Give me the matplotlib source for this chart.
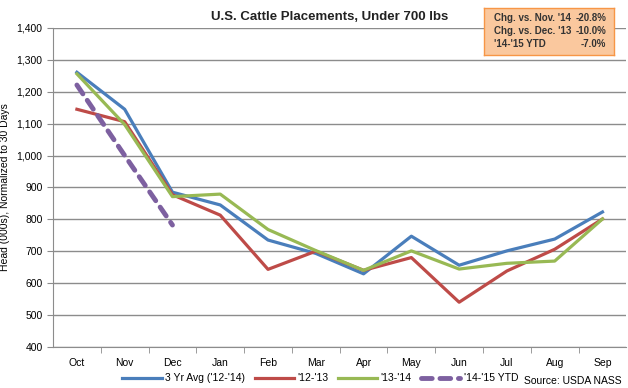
import matplotlib
matplotlib.use("Agg")
import matplotlib.pyplot as plt
from matplotlib.ticker import FuncFormatter, FixedLocator

plt.rcParams['font.family'] = ['Liberation Sans', 'DejaVu Sans']

months = ['Oct', 'Nov', 'Dec', 'Jan', 'Feb', 'Mar', 'Apr', 'May', 'Jun', 'Jul', 'Aug', 'Sep']
avg_3yr = [1261, 1145, 885, 845, 735, 693, 629, 747, 656, 701, 738, 823]
y_12_13 = [1145, 1106, 877, 813, 643, 700, 640, 680, 540, 638, 706, 801]
y_13_14 = [1256, 1097, 871, 879, 768, 702, 640, 701, 644, 662, 669, 801]
y_14_15 = [1221, 1000, 782]

box_lines = [("Chg. vs. Nov. '14", "-20.8%"),
             ("Chg. vs. Dec. '13", "-10.0%"),
             ("'14-'15 YTD", "-7.0%")]

fig = plt.figure(figsize=(6.28, 3.88), dpi=100)
ax = fig.add_axes([0.0844, 0.106, 0.913, 0.822])

x = list(range(len(months)))
ax.plot(x, avg_3yr, color='#4A7EBB', lw=2.3, label="3 Yr Avg ('12-'14)")
ax.plot(x, y_12_13, color='#BE4B48', lw=2.3, label="'12-'13")
ax.plot(x, y_13_14, color='#98B954', lw=2.3, label="'13-'14")
ax.plot(x[:len(y_14_15)], y_14_15, color='#7D60A0', lw=3.5, ls=(0, (2.2, 1.6)),
        dash_capstyle='round', label="'14-'15 YTD")

ax.set_xlim(-0.5, len(months) - 0.5)
ax.set_ylim(400, 1400)
ax.set_yticks(range(400, 1401, 100))
ax.yaxis.set_major_formatter(FuncFormatter(lambda v, p: f'{int(v):,}'))
ax.grid(axis='y', color='#8C8C8C', lw=1)
ax.set_axisbelow(True)
ax.set_xticks(x)
ax.set_xticklabels(months, fontsize=7.5)
ax.xaxis.set_minor_locator(FixedLocator([i + 0.5 for i in x[:-1]]))
ax.tick_params(axis='x', which='major', length=0, pad=8)
ax.tick_params(axis='x', which='minor', length=4, color='#8C8C8C')
ax.tick_params(axis='y', labelsize=7.5, length=4, color='#8C8C8C')
for s in ['top', 'right']:
    ax.spines[s].set_visible(False)
for s in ['left', 'bottom']:
    ax.spines[s].set_color('#8C8C8C')

ax.set_ylabel('Head (000s), Normalized to 30 Days', fontsize=7.5)
ax.yaxis.set_label_coords(-0.075, 0.5)

fig.text(0.525, 0.955, 'U.S. Cattle Placements, Under 700 lbs', ha='center', va='center',
         fontsize=9.5, fontweight='bold', color='#222222')

fig.legend(loc='center', bbox_to_anchor=(0.51, 0.025), ncol=4, frameon=False, fontsize=7.5,
           handlelength=3.8, columnspacing=0.9, handletextpad=0.3, borderaxespad=0)
fig.text(0.99, 0.018, 'Source: USDA NASS', ha='right', va='center', fontsize=7.5)

# summary box
bx = fig.add_axes([484 / 628, 1 - 55 / 388, 130 / 628, 47 / 388])
bx.set_xlim(0, 1)
bx.set_ylim(0, 1)
bx.set_xticks([])
bx.set_yticks([])
bx.set_facecolor('#FAC89E')
for s in bx.spines.values():
    s.set_color('#F79646')
    s.set_linewidth(1)
for i, (lab, val) in enumerate(box_lines):
    yy = 0.78 - i * 0.27
    bx.text(0.08, yy, lab, ha='left', va='center', fontsize=7, fontweight='bold', color='#333333')
    bx.text(0.94, yy, val, ha='right', va='center', fontsize=7, fontweight='bold', color='#333333')

fig.savefig('out.png', dpi=100)
